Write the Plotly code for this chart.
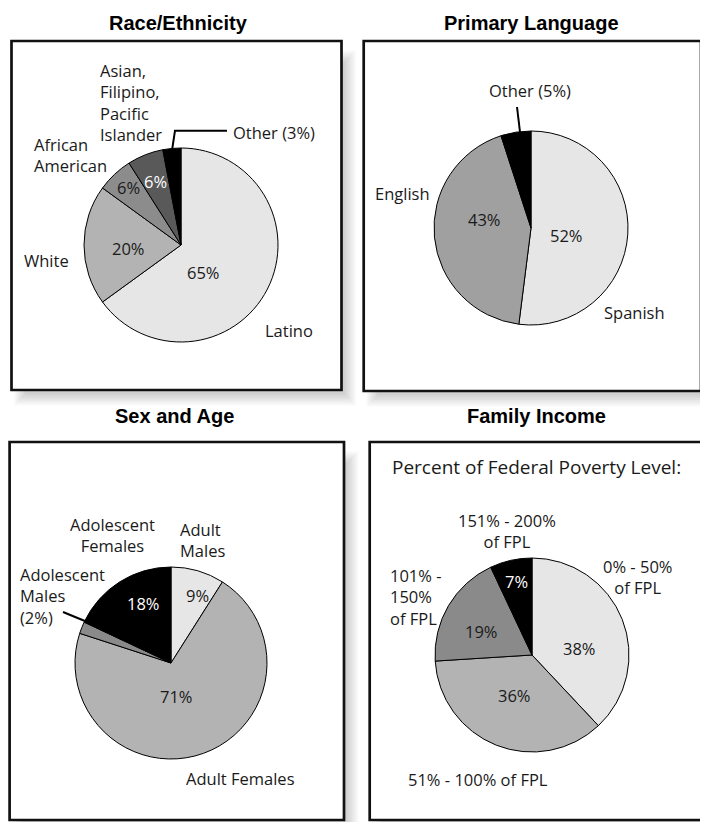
import plotly.graph_objects as go

# the page body keeps an 8px margin, so the figure is 700x814 and
# reference pixel positions are shifted by OFF
W, H = 700, 814
OFF = 8

# ---- data ----
race_labels = ['Latino', 'White', 'African American', 'Asian, Filipino, Pacific Islander', 'Other']
race_values = [65, 20, 6, 6, 3]

lang_labels = ['Spanish', 'English', 'Other']
lang_values = [52, 43, 5]

sex_labels = ['Adult Males', 'Adult Females', 'Adolescent Males', 'Adolescent Females']
sex_values = [9, 71, 2, 18]

income_labels = ['0% - 50% of FPL', '51% - 100% of FPL', '101% - 150% of FPL', '151% - 200% of FPL']
income_values = [38, 36, 19, 7]

titles = ['Race/Ethnicity', 'Primary Language', 'Sex and Age', 'Family Income']

LABEL_FONT = 'Open Sans, Noto Sans, sans-serif'
TITLE_FONT = 'Liberation Sans, Arial, sans-serif'
LABEL_SIZE = 16.5


def fx(x):
    return (x - OFF) / W


def fy(y):
    return 1 - (y - OFF) / H


fig = go.Figure()
shapes = []
annotations = []


def add_pie(labels, values, colors, cx, cy, r):
    fig.add_trace(go.Pie(
        labels=labels, values=values,
        sort=False, direction='clockwise', rotation=0,
        marker=dict(colors=colors, line=dict(color='black', width=1)),
        textinfo='none', hoverinfo='label+percent',
        domain=dict(x=[fx(cx - r), fx(cx + r)], y=[fy(cy + r), fy(cy - r)]),
        showlegend=False
    ))


def add_box(x0, y0, x1, y1):
    # soft drop shadow
    n = 8
    for k in range(n):
        d = (k - n / 2) * 1.6
        shapes.append(dict(type='rect', xref='paper', yref='paper', layer='below',
                           x0=fx(x0 + 9 + d), x1=fx(x1 + 8 - d),
                           y0=fy(y1 + 9 - d), y1=fy(y0 + 16 + d),
                           fillcolor='rgba(0,0,0,0.022)', line=dict(width=0)))
    shapes.append(dict(type='rect', xref='paper', yref='paper', layer='below',
                       x0=fx(x0), x1=fx(x1), y0=fy(y1), y1=fy(y0),
                       fillcolor='white', line=dict(color='#111111', width=2.7)))


def add_text(lines, x, y, anchor='left', size=LABEL_SIZE, color='#1a1a1a'):
    annotations.append(dict(text='<br>'.join(lines), x=fx(x), y=fy(y), xref='paper', yref='paper',
                            xanchor=anchor, yanchor='middle', align=anchor,
                            showarrow=False,
                            font=dict(family=LABEL_FONT, size=size, color=color)))


def add_pcts(values, positions, colors):
    for v, (x, y), c in zip(values, positions, colors):
        add_text([f'{v}%'], x, y, anchor='center', color=c)


def add_leader(points):
    path = 'M ' + ' L '.join(f'{fx(x)},{fy(y)}' for x, y in points)
    shapes.append(dict(type='path', xref='paper', yref='paper', path=path,
                       line=dict(color='black', width=2)))


# boxes
add_box(11.5, 41, 341.5, 390)
add_box(363.7, 41, 701, 391)
add_box(9.6, 442, 344, 820)
add_box(369.7, 442, 704, 820)

# titles
for t, (x, y) in zip(titles, [(178, 23), (531, 23), (174, 416), (536, 416)]):
    annotations.append(dict(text=t, x=fx(x), y=fy(y), xref='paper', yref='paper',
                            xanchor='center', yanchor='middle', showarrow=False,
                            font=dict(family=TITLE_FONT, size=20, color='black', weight='bold')))

# Race/Ethnicity
add_pie(race_labels, race_values, ['#e6e6e6', '#b3b3b3', '#8c8c8c', '#595959', '#000000'], 181, 245, 97)
add_pcts(race_values, [(203, 273), (128, 248), (128, 188), (155, 182)],
         ['#1a1a1a', '#1a1a1a', '#1a1a1a', 'white'])
add_text(['Asian,', 'Filipino,', 'Pacific', 'Islander'], 98, 102)
add_text(['African', 'American'], 32, 155)
add_text(['White'], 22, 260)
add_text(['Latino'], 263, 330)
add_text([f'{race_labels[4]} ({race_values[4]}%)'], 231, 132)
add_leader([(172.3, 148.5), (175, 130.7), (227, 130.7)])

# Primary Language
add_pie(lang_labels, lang_values, ['#e6e6e6', '#a0a0a0', '#000000'], 531, 228, 97)
add_pcts(lang_values[:2], [(566, 235), (484, 219)], ['#1a1a1a', '#1a1a1a'])
add_text([f'{lang_labels[2]} ({lang_values[2]}%)'], 530, 90, anchor='center')
add_text(['English'], 373, 193)
add_text(['Spanish'], 602, 312)
add_leader([(517, 107), (520, 132)])

# Sex and Age
add_pie(sex_labels, sex_values, ['#e6e6e6', '#b3b3b3', '#8a8a8a', '#000000'], 171, 663, 96)
add_pcts([sex_values[0], sex_values[1], sex_values[3]], [(198, 595), (176, 696), (143, 603)],
         ['#1a1a1a', '#1a1a1a', 'white'])
add_text(['Adolescent', 'Females'], 112, 535, anchor='center')
add_text(['Adult', 'Males'], 178, 540)
add_text(['Adolescent', 'Males', f'({sex_values[2]}%)'], 18, 596)
add_text(['Adult Females'], 184, 778)
add_leader([(63, 612), (97, 626)])

# Family Income
add_pie(income_labels, income_values, ['#e6e6e6', '#b3b3b3', '#8a8a8a', '#000000'], 532, 655, 97)
add_pcts(income_values, [(579, 648), (514, 695), (481, 631), (517, 581)],
         ['#1a1a1a', '#1a1a1a', '#1a1a1a', 'white'])
add_text(['Percent of Federal Poverty Level:'], 536, 467, anchor='center', size=19)
add_text(['151% - 200%', 'of FPL'], 507, 531, anchor='center')
add_text(['0% - 50%', 'of FPL'], 637, 577, anchor='center')
add_text(['101% -', '150%', 'of FPL'], 388, 597)
add_text(['51% - 100% of FPL'], 406, 779)

fig.update_layout(
    width=W, height=H,
    margin=dict(l=0, r=0, t=0, b=0),
    paper_bgcolor='white', plot_bgcolor='white',
    shapes=shapes, annotations=annotations,
    showlegend=False
)

fig.write_html("out.html")
